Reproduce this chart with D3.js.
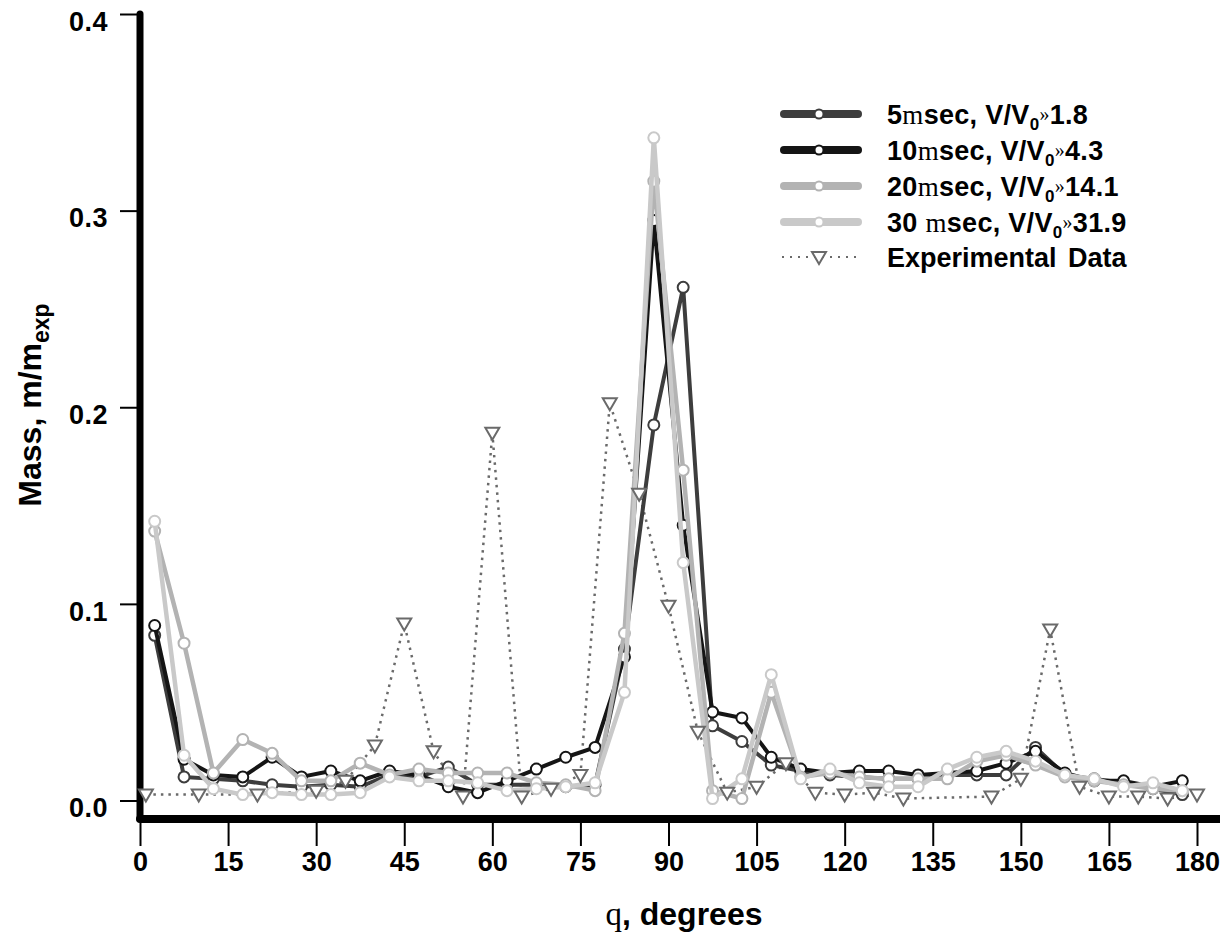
<!DOCTYPE html>
<html>
<head>
<meta charset="utf-8">
<script src="https://cdn.jsdelivr.net/npm/d3@7"></script>
<style>
  body { margin: 0; background: #fff; }
  svg text { font-family: "Liberation Sans", Arial, sans-serif; font-weight: bold; fill: #000; }
  .serif { font-family: "Liberation Serif", "Times New Roman", serif; font-weight: normal; }
</style>
</head>
<body>
<div id="chart"></div>
<script>
// angle bins (degrees) for the simulated series
var angles = [2.5, 7.5, 12.5, 17.5, 22.5, 27.5, 32.5, 37.5, 42.5, 47.5, 52.5, 57.5,
  62.5, 67.5, 72.5, 77.5, 82.5, 87.5, 92.5, 97.5, 102.5, 107.5, 112.5, 117.5,
  122.5, 127.5, 132.5, 137.5, 142.5, 147.5, 152.5, 157.5, 162.5, 167.5, 172.5, 177.5];

var mass5 = [0.084, 0.012, 0.011, 0.010, 0.008, 0.007, 0.008, 0.007, 0.013, 0.012, 0.017, 0.008,
  0.008, 0.008, 0.007, 0.008, 0.077, 0.191, 0.261, 0.038, 0.030, 0.018, 0.015, 0.013,
  0.012, 0.011, 0.011, 0.013, 0.013, 0.013, 0.027, 0.013, 0.011, 0.009, 0.006, 0.003];

var mass10 = [0.089, 0.021, 0.013, 0.012, 0.022, 0.012, 0.015, 0.010, 0.015, 0.013, 0.007, 0.004,
  0.010, 0.016, 0.022, 0.027, 0.073, 0.295, 0.140, 0.045, 0.042, 0.022, 0.016, 0.014,
  0.015, 0.015, 0.013, 0.014, 0.015, 0.019, 0.025, 0.014, 0.010, 0.010, 0.007, 0.010];

var mass20 = [0.137, 0.080, 0.014, 0.031, 0.024, 0.010, 0.010, 0.019, 0.013, 0.016, 0.014, 0.014,
  0.014, 0.009, 0.008, 0.005, 0.085, 0.315, 0.168, 0.005, 0.001, 0.055, 0.012, 0.014,
  0.012, 0.011, 0.011, 0.011, 0.020, 0.023, 0.018, 0.012, 0.010, 0.008, 0.006, 0.005];

var mass30 = [0.142, 0.023, 0.006, 0.003, 0.004, 0.003, 0.003, 0.004, 0.012, 0.010, 0.010, 0.009,
  0.005, 0.006, 0.007, 0.009, 0.055, 0.337, 0.121, 0.001, 0.011, 0.064, 0.011, 0.016,
  0.009, 0.007, 0.007, 0.016, 0.022, 0.025, 0.020, 0.013, 0.011, 0.007, 0.009, 0.005];

// experimental data
var expAngles = [1, 10, 20, 30, 35, 40, 45, 50, 55, 60, 65, 70, 75, 80, 85, 90, 95, 100,
  105, 110, 115, 120, 125, 130, 145, 150, 155, 160, 165, 170, 175, 180];
var expMass = [0.003, 0.003, 0.003, 0.005, 0.010, 0.028, 0.090, 0.025, 0.002, 0.187, 0.002, 0.006,
  0.013, 0.202, 0.156, 0.099, 0.035, 0.004, 0.007, 0.019, 0.004, 0.003, 0.004, 0.001,
  0.002, 0.011, 0.087, 0.007, 0.002, 0.002, 0.001, 0.003];

var xTicks = [0, 15, 30, 45, 60, 75, 90, 105, 120, 135, 150, 165, 180];
var yTicks = [0.0, 0.1, 0.2, 0.3, 0.4];

// legend label pieces: [time, speed ratio]
var legendTimes = ["5", "10", "20", "30 "];
var legendRatios = ["1.8", "4.3", "14.1", "31.9"];

var svgWidth = 1220;
var svgHeight = 942;

var svg = d3.select("#chart")
  .append("svg")
  .attr("width", svgWidth)
  .attr("height", svgHeight);

var xScale = d3.scaleLinear().domain([0, 180]).range([140, 1197]);
var yScale = d3.scaleLinear().domain([0, 0.4]).range([800.5, 14]);

var series = [
  { values: mass5, color: "#3d3d3d", width: 4 },
  { values: mass10, color: "#151515", width: 4 },
  { values: mass20, color: "#b3b3b3", width: 4.5 },
  { values: mass30, color: "#c9c9c9", width: 4.5 }
];
var expColor = "#6a6a6a";

// axes
var leftAxis = d3.axisLeft(yScale)
  .tickValues(yTicks)
  .tickFormat(d3.format(".1f"))
  .tickSize(17)
  .tickPadding(12);

var bottomAxis = d3.axisBottom(xScale)
  .tickValues(xTicks)
  .tickSize(23)
  .tickPadding(6);

var yAxisG = svg.append("g")
  .attr("transform", "translate(137,0)")
  .call(leftAxis);
yAxisG.select(".domain").remove();
yAxisG.selectAll(".tick line").attr("stroke", "#000").attr("stroke-width", 2);
yAxisG.selectAll(".tick text")
  .attr("font-size", "27px")
  .attr("fill", "#000")
  .attr("dy", "0.6em")
  .style("letter-spacing", "0.5px")
  .style("font-family", "'Liberation Sans', Arial, sans-serif")
  .style("font-weight", "bold");

var xAxisG = svg.append("g")
  .attr("transform", "translate(0,823)")
  .call(bottomAxis);
xAxisG.select(".domain").remove();
xAxisG.selectAll(".tick line").attr("stroke", "#000").attr("stroke-width", 2);
xAxisG.selectAll(".tick text")
  .attr("font-size", "27px")
  .attr("fill", "#000")
  .style("font-family", "'Liberation Sans', Arial, sans-serif")
  .style("font-weight", "bold");

// thick axis lines
svg.append("line")
  .attr("x1", xScale(0)).attr("x2", xScale(0))
  .attr("y1", yScale(0.4)).attr("y2", 819)
  .attr("stroke", "#000").attr("stroke-width", 7)
  .attr("stroke-linecap", "round");
svg.append("line")
  .attr("x1", xScale(0)).attr("x2", svgWidth + 5)
  .attr("y1", 819).attr("y2", 819)
  .attr("stroke", "#000").attr("stroke-width", 8)
  .attr("stroke-linecap", "round");

// experimental dotted line (underneath)
var expLine = d3.line()
  .x(function(d, i) { return xScale(expAngles[i]); })
  .y(function(d) { return yScale(d); });

svg.append("path")
  .datum(expMass)
  .attr("d", expLine)
  .attr("fill", "none")
  .attr("stroke", expColor)
  .attr("stroke-width", 2.5)
  .attr("stroke-dasharray", "2.5,5");

// simulated series
var simLine = d3.line()
  .x(function(d, i) { return xScale(angles[i]); })
  .y(function(d) { return yScale(d); });

series.forEach(function(s) {
  svg.append("path")
    .datum(s.values)
    .attr("d", simLine)
    .attr("fill", "none")
    .attr("stroke", s.color)
    .attr("stroke-width", s.width)
    .attr("stroke-linejoin", "round");

  svg.append("g")
    .selectAll("circle")
    .data(s.values)
    .enter()
    .append("circle")
    .attr("cx", function(d, i) { return xScale(angles[i]); })
    .attr("cy", function(d) { return yScale(d); })
    .attr("r", 5.5)
    .attr("fill", "#fff")
    .attr("stroke", s.color)
    .attr("stroke-width", 2);
});

// triangles (down-pointing) for experimental data
var tri = "M-7,-5 L7,-5 L0,7 Z";
svg.append("g")
  .selectAll("path")
  .data(expMass)
  .enter()
  .append("path")
  .attr("d", tri)
  .attr("transform", function(d, i) { return "translate(" + xScale(expAngles[i]) + "," + yScale(d) + ")"; })
  .attr("fill", "#fff")
  .attr("stroke", expColor)
  .attr("stroke-width", 2);

// legend
var legend = svg.append("g").attr("class", "legend");
var rowY = [114, 150, 186, 222, 257];

series.forEach(function(s, i) {
  var g = legend.append("g").attr("transform", "translate(0," + rowY[i] + ")");
  g.append("line")
    .attr("x1", 784).attr("x2", 858)
    .attr("y1", 0).attr("y2", 0)
    .attr("stroke", s.color)
    .attr("stroke-width", 8)
    .attr("stroke-linecap", "round");
  g.append("circle")
    .attr("cx", 819).attr("cy", 0).attr("r", 4.5)
    .attr("fill", "#fff")
    .attr("stroke", s.color)
    .attr("stroke-width", 2);

  var t = g.append("text")
    .attr("x", 887).attr("y", 10)
    .attr("font-size", "27px")
    .style("letter-spacing", "0.3px");
  t.append("tspan").text(legendTimes[i]);
  t.append("tspan").attr("class", "serif").attr("font-size", "27px").text("m");
  t.append("tspan").text("sec, V/V");
  t.append("tspan").attr("font-size", "17px").attr("dy", 6).text("0");
  t.append("tspan").attr("class", "serif").attr("font-size", "20px").attr("dy", -9).text("»");
  t.append("tspan").attr("dy", 3).text(legendRatios[i]);
});

var eg = legend.append("g").attr("transform", "translate(0," + rowY[4] + ")");
eg.append("line")
  .attr("x1", 782).attr("x2", 860)
  .attr("y1", 0).attr("y2", 0)
  .attr("stroke", expColor)
  .attr("stroke-width", 2)
  .attr("stroke-dasharray", "2,6");
eg.append("path")
  .attr("d", tri)
  .attr("transform", "translate(819,0)")
  .attr("fill", "#fff")
  .attr("stroke", expColor)
  .attr("stroke-width", 2);
eg.append("text")
  .attr("x", 887).attr("y", 10)
  .attr("font-size", "27px")
  .style("word-spacing", "4px")
  .text("Experimental Data");

// axis titles
var yTitle = svg.append("text")
  .attr("transform", "translate(41,405) rotate(-90)")
  .attr("text-anchor", "middle")
  .attr("font-size", "32px");
yTitle.append("tspan").text("Mass, m/m");
yTitle.append("tspan").attr("font-size", "23px").attr("dy", 8).text("exp");

var xTitle = svg.append("text")
  .attr("x", 684).attr("y", 925)
  .attr("text-anchor", "middle")
  .attr("font-size", "32px");
xTitle.append("tspan").attr("class", "serif").attr("font-size", "33px").text("q");
xTitle.append("tspan").text(", degrees");
</script>
</body>
</html>
